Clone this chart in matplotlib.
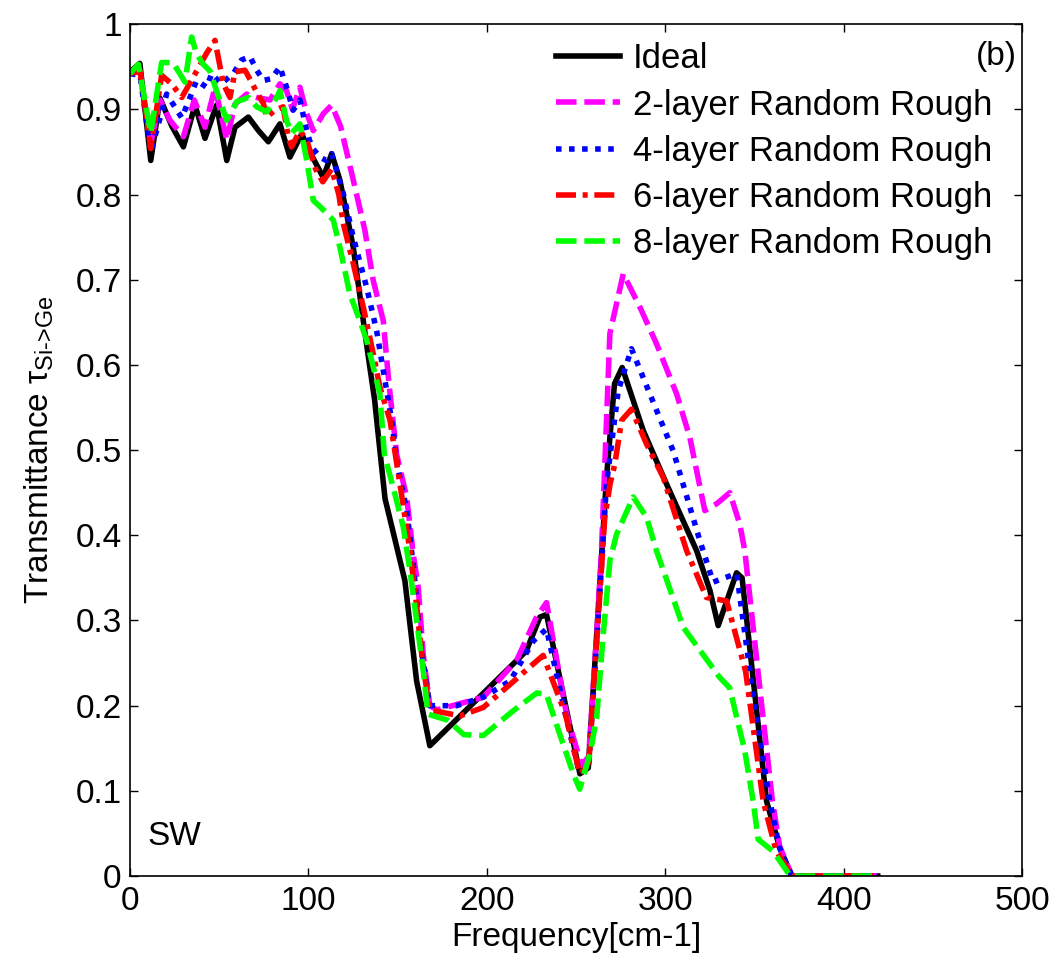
import numpy as np
import matplotlib

matplotlib.use("Agg")
import matplotlib.pyplot as plt
from matplotlib.ticker import FuncFormatter

plt.rcParams.update(
    {
        "font.family": ["Liberation Sans", "DejaVu Sans"],
        "font.size": 24,
        "mathtext.fontset": "custom",
        "mathtext.rm": "Liberation Sans",
        "mathtext.it": "Liberation Sans",
        "mathtext.sf": "Liberation Sans",
        "xtick.direction": "in",
        "ytick.direction": "in",
        "xtick.top": True,
        "ytick.right": True,
    }
)

# Ideal interface
f_ideal = [0, 5.5, 11.6, 16.8, 23.5, 29.9, 36.4, 42, 48.5, 54.2, 58.8, 66.3, 72, 77.5,
           84, 89.6, 96.2, 102, 108.3, 113, 117.6, 125.1, 130.7, 134.4, 137, 140, 142.9,
           154, 160.6, 168, 222, 229.7, 233.4, 252.1, 256.8, 262, 267, 271.5, 275.8,
           287.6, 300.7, 317.5, 325, 329.6, 339.9, 343, 356.7, 364.1, 370.7, 419]
t_ideal = [0.944, 0.954, 0.840, 0.913, 0.880, 0.856, 0.905, 0.866, 0.905, 0.840, 0.879,
           0.891, 0.875, 0.862, 0.883, 0.844, 0.871, 0.845, 0.820, 0.848, 0.817, 0.738,
           0.652, 0.597, 0.560, 0.500, 0.443, 0.347, 0.229, 0.153, 0.264, 0.304, 0.307,
           0.120, 0.127, 0.300, 0.468, 0.578, 0.597, 0.523, 0.460, 0.382, 0.335, 0.294,
           0.356, 0.350, 0.088, 0.033, 0.0, 0.0]

# 2-layer random rough
f_2 = [0, 5.6, 11.6, 16.8, 22.4, 29.9, 36, 42, 47.6, 54.2, 58.8, 65.3, 71, 78.4, 84,
       87.7, 91, 95.2, 99, 102.7, 108.3, 113, 118, 125.1, 131.6, 136.3, 141.9, 145,
       149.4, 155, 158.7, 161.5, 164.3, 168, 172, 198, 216.6, 227.8, 233.4, 244.6, 253,
       257, 262, 264.2, 268.9, 276.4, 285.7, 295, 306.3, 313.7, 322.1, 328.7, 336.1,
       341.7, 344.5, 354, 360, 364, 371, 419]
t_2 = [0.942, 0.945, 0.860, 0.911, 0.887, 0.868, 0.911, 0.879, 0.926, 0.864, 0.906,
       0.918, 0.914, 0.911, 0.930, 0.922, 0.900, 0.926, 0.895, 0.875, 0.895, 0.905,
       0.880, 0.817, 0.758, 0.699, 0.652, 0.580, 0.495, 0.445, 0.378, 0.339, 0.260,
       0.200, 0.195, 0.210, 0.253, 0.304, 0.321, 0.190, 0.130, 0.140, 0.300, 0.382,
       0.637, 0.707, 0.668, 0.625, 0.566, 0.515, 0.429, 0.437, 0.450, 0.413, 0.382,
       0.200, 0.088, 0.035, 0.0, 0.0]

# 4-layer random rough
f_4 = [0, 5.6, 11.6, 20.5, 29, 33.6, 37.3, 42.9, 45.8, 51, 57.9, 62.5, 67.2, 71, 74.7,
       79.3, 84, 87.7, 91.4, 95.2, 99, 101.7, 106.4, 110, 113, 119.5, 125.1, 132.6,
       138.2, 146.6, 150, 155, 159, 163, 168, 183, 198, 213, 226, 233.4, 244, 252, 257,
       262, 267, 273.6, 281, 291.3, 304.4, 319.3, 326.8, 333, 340, 350, 358.5, 364, 371,
       419]
t_4 = [0.942, 0.940, 0.850, 0.918, 0.890, 0.914, 0.934, 0.926, 0.942, 0.930, 0.942,
       0.958, 0.962, 0.946, 0.934, 0.936, 0.950, 0.926, 0.899, 0.911, 0.875, 0.856,
       0.844, 0.840, 0.848, 0.801, 0.750, 0.691, 0.640, 0.535, 0.480, 0.430, 0.360,
       0.270, 0.200, 0.200, 0.210, 0.229, 0.276, 0.290, 0.190, 0.120, 0.130, 0.290,
       0.460, 0.570, 0.619, 0.566, 0.499, 0.394, 0.345, 0.350, 0.355, 0.200, 0.088,
       0.033, 0.0, 0.0]

# 6-layer random rough
f_6 = [0, 5.6, 11.6, 17.7, 23.3, 29, 36, 42.9, 47.6, 52.3, 56, 58.8, 64.4, 68.1, 71,
       74.7, 76.6, 81.2, 85.8, 88.6, 90.5, 95.2, 99, 104, 108, 113, 117, 119.5, 125.1,
       130.7, 136.3, 140, 145.7, 152, 157, 161, 164, 168, 185, 198, 213, 226, 231.5,
       244, 252, 257, 262, 266, 269, 271.7, 275.5, 281, 289.5, 298.8, 311.9, 323,
       334.3, 345, 354.8, 362, 371, 419]
t_6 = [0.942, 0.945, 0.854, 0.940, 0.930, 0.914, 0.940, 0.966, 0.981, 0.930, 0.914,
       0.944, 0.946, 0.932, 0.920, 0.907, 0.891, 0.899, 0.903, 0.868, 0.856, 0.875,
       0.864, 0.830, 0.815, 0.830, 0.800, 0.766, 0.719, 0.668, 0.613, 0.574, 0.535,
       0.450, 0.380, 0.310, 0.250, 0.195, 0.188, 0.198, 0.225, 0.249, 0.259, 0.190,
       0.120, 0.130, 0.290, 0.420, 0.460, 0.484, 0.535, 0.548, 0.507, 0.468, 0.382,
       0.327, 0.323, 0.240, 0.088, 0.030, 0.0, 0.0]

# 8-layer random rough
f_8 = [0, 4.7, 11.6, 17.7, 24, 30.8, 34.5, 37.3, 41, 44.8, 50.4, 54.2, 59.8, 66.3, 71,
       76.6, 82.2, 84, 87.7, 90.5, 95.2, 99, 102.7, 106.4, 113.9, 117.6, 123.2, 128.8,
       132.6, 140, 142.5, 147.5, 153.1, 156.9, 160.6, 164.3, 167, 178, 187, 198, 214.7,
       228, 233.4, 240.9, 248.4, 252, 257.7, 261.5, 265.2, 268.9, 272.6, 282, 289.5,
       295, 310, 330.5, 336, 344.5, 349.2, 352, 360.4, 370, 419]
t_8 = [0.942, 0.953, 0.872, 0.955, 0.955, 0.932, 0.985, 0.965, 0.953, 0.945, 0.910,
       0.887, 0.909, 0.914, 0.903, 0.897, 0.914, 0.922, 0.887, 0.872, 0.883, 0.840,
       0.793, 0.786, 0.770, 0.738, 0.683, 0.652, 0.629, 0.566, 0.495, 0.456, 0.410,
       0.358, 0.300, 0.241, 0.190, 0.183, 0.166, 0.165, 0.194, 0.215, 0.213, 0.166,
       0.120, 0.102, 0.143, 0.186, 0.284, 0.370, 0.401, 0.445, 0.421, 0.382, 0.292,
       0.233, 0.221, 0.147, 0.088, 0.043, 0.029, 0.0, 0.0]

labels = ["Ideal", "2-layer Random Rough", "4-layer Random Rough",
          "6-layer Random Rough", "8-layer Random Rough"]

fig = plt.figure(figsize=(10.59, 9.68), dpi=100)
ax = fig.add_axes([0.1228, 0.095, 0.8425, 0.880])

lw = 4
ax.plot(f_ideal, t_ideal, color="black", lw=lw, label=labels[0])
ax.plot(f_2, t_2, color="#ff00ff", lw=lw, dashes=(3.7, 1.4), label=labels[1])
ax.plot(f_4, t_4, color="#0000ff", lw=lw, dashes=(1.0, 1.35), label=labels[2])
ax.plot(f_6, t_6, color="#ff0000", lw=lw, dashes=(3.6, 1.2, 0.9, 1.2), label=labels[3])
ax.plot(f_8, t_8, color="#00ff00", lw=lw, dashes=(3.7, 1.4), label=labels[4])

ax.set_xlim(0, 500)
ax.set_ylim(0, 1)
ax.set_xticks(np.arange(0, 501, 100))
ax.set_yticks(np.arange(0, 1.01, 0.1))
ax.yaxis.set_major_formatter(FuncFormatter(lambda v, p: f"{v:g}"))
ax.tick_params(length=6, width=1, labelsize=24)
ax.tick_params(axis="x", pad=7)
ax.tick_params(axis="y", pad=6)
for s in ax.spines.values():
    s.set_linewidth(1.2)

ax.set_xlabel("Frequency[cm-1]", fontsize=24, labelpad=4)
ax.set_ylabel(r"Transmittance $\tau_{\text{Si->Ge}}$", fontsize=24, labelpad=14)

ax.text(497, 0.962, "(b)", ha="right", va="center", fontsize=24)
ax.text(9.5, 0.046, "SW", ha="left", va="center", fontsize=24)

ax.legend(loc="upper left", bbox_to_anchor=(0.462, 0.995), frameon=False,
          fontsize=25, handlelength=1.85, handletextpad=0.35, labelspacing=0.38,
          borderaxespad=0)

fig.savefig("out.png", dpi=100, facecolor="white")
plt.close(fig)
